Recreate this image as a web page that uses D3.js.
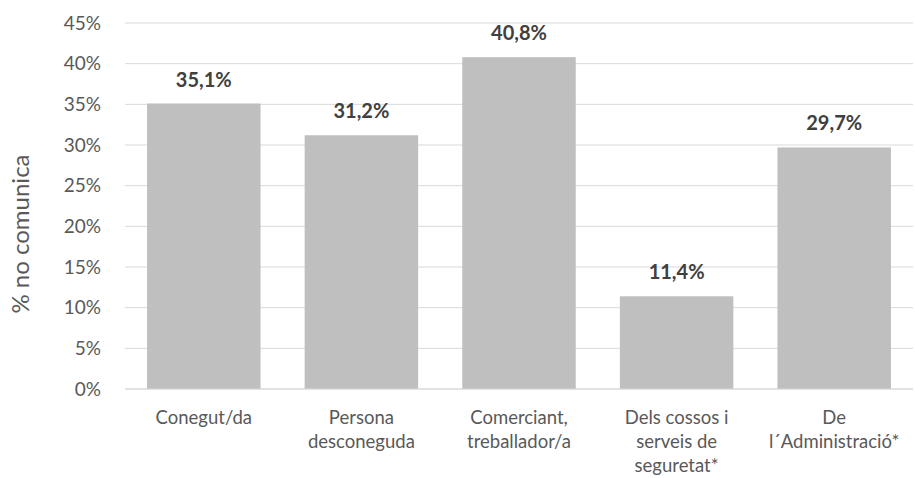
<!DOCTYPE html>
<html>
<head>
<meta charset="utf-8">
<script src="https://cdn.jsdelivr.net/npm/d3@7"></script>
<style>
  body { margin: 0; background: #fff; }
  svg { font-family: Lato, "Open Sans", sans-serif; }
</style>
</head>
<body>
<svg id="chart"></svg>
<script>
'use strict';

// data
var categories = [
  ['Conegut/da'],
  ['Persona', 'desconeguda'],
  ['Comerciant,', 'treballador/a'],
  ['Dels cossos i', 'serveis de', 'seguretat*'],
  ['De', 'l\u00b4Administraci\u00f3*']
];
var values = [35.1, 31.2, 40.8, 11.4, 29.7];
var yTicks = [0, 5, 10, 15, 20, 25, 30, 35, 40, 45];

// chart size
var margin = { top: 23, right: 2, bottom: 89, left: 125 };
var W = 915, H = 478;
var width  = W - margin.left - margin.right;
var height = H - margin.top - margin.bottom;

var svg = d3.select('#chart').attr('width', W).attr('height', H)
  .append('g')
  .attr('transform', 'translate(' + margin.left + ',' + margin.top + ')');

var x = d3.scaleBand().domain(d3.range(values.length)).range([0, width]).paddingInner(0.28).paddingOuter(0.14);
var y = d3.scaleLinear().domain([0, 45]).range([height, 0]);

// gridlines
svg.append('g').selectAll('line').data(yTicks).enter().append('line')
  .attr('x1', 0).attr('x2', width)
  .attr('y1', function(d){ return y(d); }).attr('y2', function(d){ return y(d); })
  .attr('stroke', '#d9d9d9').attr('stroke-width', 1);

// y axis labels
var yAxis = svg.append('g')
  .call(d3.axisLeft(y).tickValues(yTicks).tickSize(0).tickPadding(24)
    .tickFormat(function(d){ return d + '%'; }));
yAxis.select('.domain').remove();
yAxis.selectAll('text').attr('fill', '#595959').style('font-size', '19px')
  .style('font-family', 'Lato, "Open Sans", sans-serif');

// bars
svg.selectAll('rect.bar').data(values).enter().append('rect')
  .attr('class', 'bar')
  .attr('x', function(d, i){ return x(i); })
  .attr('width', x.bandwidth())
  .attr('y', function(d){ return y(d); })
  .attr('height', function(d){ return height - y(d); })
  .attr('fill', '#bfbfbf');

// axis baseline
svg.append('line').attr('x1', 0).attr('x2', width).attr('y1', height).attr('y2', height)
  .attr('stroke', '#d9d9d9').attr('stroke-width', 1);

// value labels
svg.selectAll('text.val').data(values).enter().append('text')
  .attr('class', 'val')
  .attr('x', function(d, i){ return x(i) + x.bandwidth() / 2; })
  .attr('y', function(d){ return y(d) - 17; })
  .attr('text-anchor', 'middle')
  .attr('fill', '#404040')
  .style('font-size', '20px').style('font-weight', 'bold')
  .text(function(d){ return d.toFixed(1).replace('.', ',') + '%'; });

// category labels
var cat = svg.selectAll('text.cat').data(categories).enter().append('text')
  .attr('class', 'cat')
  .attr('x', function(d, i){ return x(i) + x.bandwidth() / 2; })
  .attr('y', height + 35)
  .attr('text-anchor', 'middle')
  .attr('fill', '#595959')
  .style('font-size', '18.5px');
cat.selectAll('tspan').data(function(d){ return d; }).enter().append('tspan')
  .attr('x', function(){ return d3.select(this.parentNode).attr('x'); })
  .attr('dy', function(d, i){ return i === 0 ? 0 : 24; })
  .text(function(d){ return d; });

// y title
svg.append('text')
  .attr('transform', 'translate(' + (-96) + ',' + (height / 2 + 28) + ') rotate(-90)')
  .attr('text-anchor', 'middle')
  .attr('fill', '#595959')
  .style('font-size', '24px')
  .text('% no comunica');
</script>
</body>
</html>
